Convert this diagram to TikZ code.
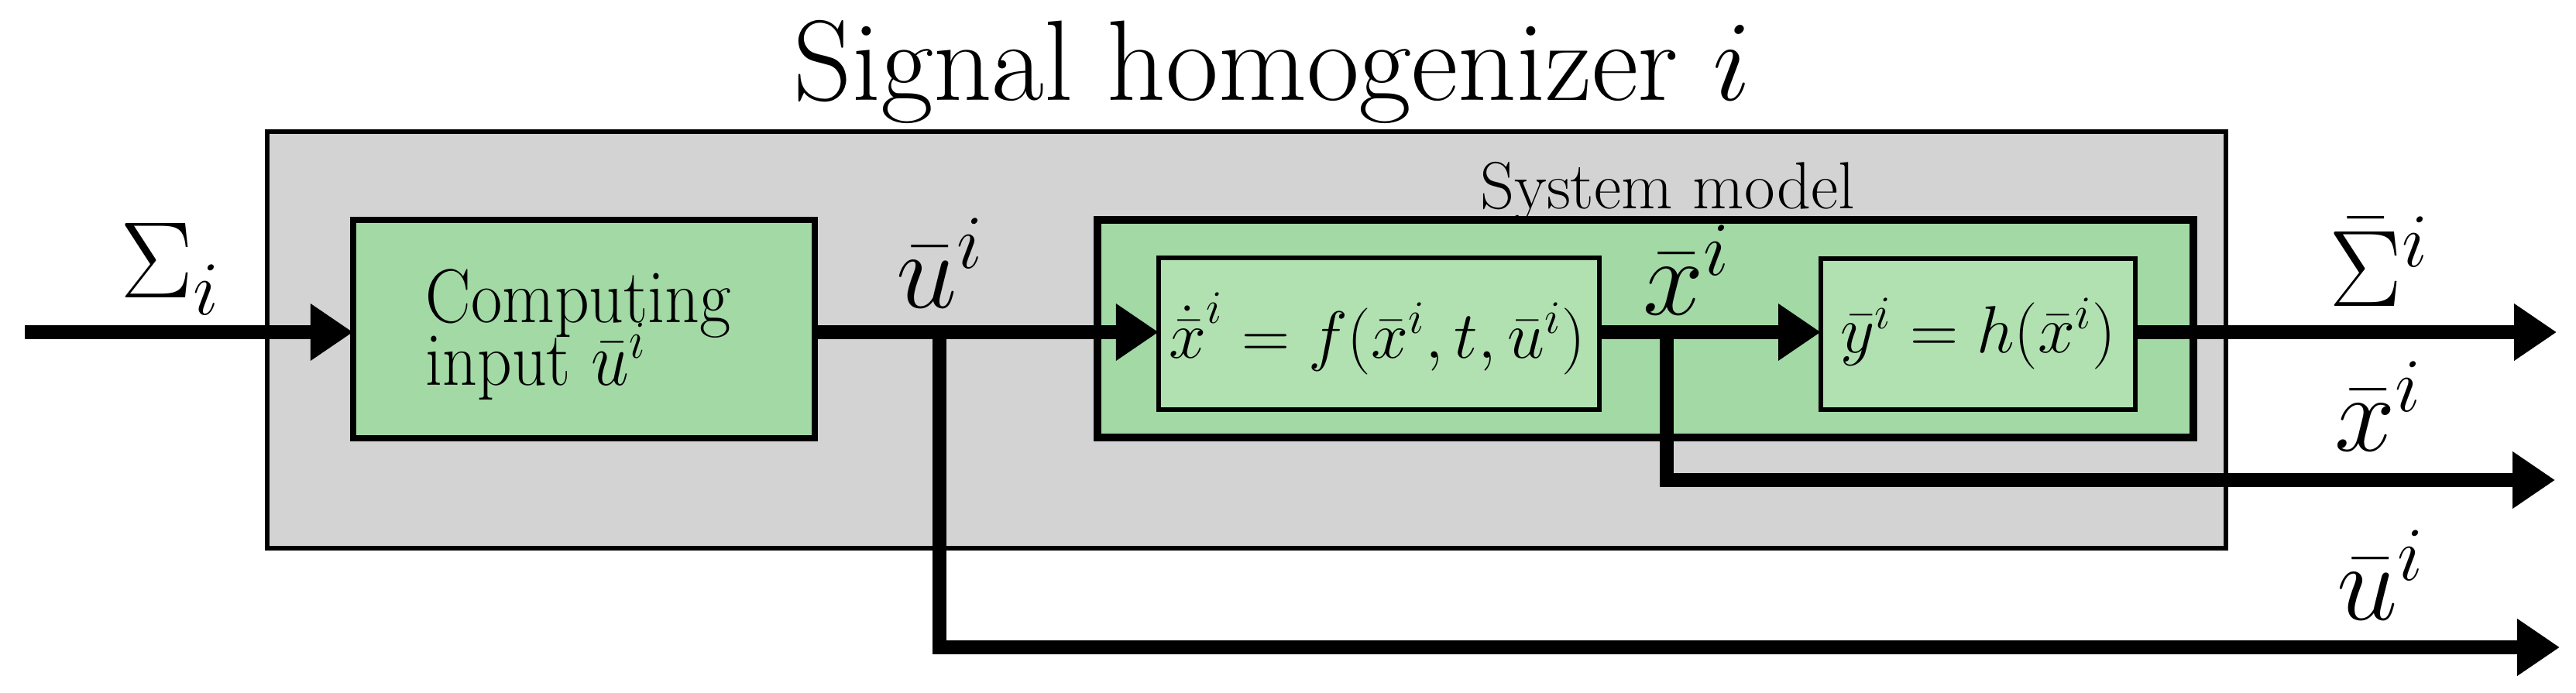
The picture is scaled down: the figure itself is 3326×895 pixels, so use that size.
\RequirePackage{fix-cm}
\documentclass[tikz,border=0pt]{standalone}
\usepackage{graphicx}
\usetikzlibrary{arrows.meta}
\definecolor{grayfill}{RGB}{211,211,211}
\definecolor{greenA}{RGB}{163,217,165}
\definecolor{greenB}{RGB}{177,224,177}
\begin{document}
\begin{tikzpicture}[x=0.01cm,y=-0.01cm,
  blk/.style={draw=black, inner sep=0pt, outer sep=0pt},
  sig/.style={line width=5.1pt, -{Triangle[length=15.6pt,width=19.9pt]}, line join=miter},
  lab/.style={font=\fontsize{40}{46}\selectfont, inner sep=0pt, anchor=base},
  eq/.style={font=\fontsize{24.5}{29}\selectfont, inner sep=0pt},
  ctext/.style={font=\fontsize{28}{23}\selectfont, inner sep=0pt, anchor=base west}]
\useasboundingbox (0,0) rectangle (3326,895);
% boxes
\node[blk, fill=grayfill, line width=1.7pt, minimum width=25.27cm, minimum height=5.38cm] (hom) at (1609.5,439) {};
\node[blk, fill=greenA, line width=2.3pt, minimum width=5.96cm, minimum height=2.82cm] (comp) at (754,425) {};
\node[blk, fill=greenA, line width=2.85pt, minimum width=14.15cm, minimum height=2.81cm] (sys) at (2124.5,424.5) {};
\node[blk, fill=greenB, line width=1.7pt, minimum width=5.69cm, minimum height=1.96cm] (fbox) at (1780.5,431) {};
\node[blk, fill=greenB, line width=1.7pt, minimum width=4.06cm, minimum height=1.95cm] (hbox) at (2554,431.5) {};
% texts
\node[font=\fontsize{42}{50}\selectfont, inner sep=0pt, anchor=base] (title) at (1643,130) {Signal homogenizer $i$};
\node[font=\fontsize{24.5}{29}\selectfont, inner sep=0pt, anchor=base] (systext) at (2153,270) {System model};
\node[ctext] (comp1) at (549,417) {\scalebox{0.89}[1]{Computing}};
\node[ctext] (comp2) at (549,498) {\scalebox{0.89}[1]{input $\bar{u}^i$}};
\node[eq] (feq) at (1778,431) {$\dot{\bar{x}}^i = f(\bar{x}^i,t,\bar{u}^i)$};
\node[eq] (heq) at (2554,431) {$\bar{y}^i = h(\bar{x}^i)$};
% coordinates
\coordinate (in) at (32,429);
\coordinate (ub) at (1213,429);
\coordinate (xb) at (2152,429);
\coordinate (sout) at (3301,429);
\coordinate (xout) at (3299,620);
\coordinate (uout) at (3305,836);
% connectors
\draw[sig] (in) -- (in -| comp.west);
\draw[sig] (in -| comp.east) -- (in -| fbox.west);
\draw[sig] (in -| fbox.east) -- (in -| hbox.west);
\draw[sig] (in -| hbox.east) -- (sout);
\draw[sig] (ub) |- (uout);
\draw[sig] (xb) |- (xout);
% labels
\node[lab, anchor=base west] (lsig) at (155,385) {$\Sigma_i$};
\node[lab] (lu1) at (1214,398) {$\bar{u}^i$};
\node[lab] (lx1) at (2178,407) {$\bar{x}^i$};
\node[lab] (lsigo) at (3072,396) {$\bar{\Sigma}^i$};
\node[lab] (lxo) at (3071,583) {$\bar{x}^i$};
\node[lab] (luo) at (3074,801) {$\bar{u}^i$};
\end{tikzpicture}
\end{document}
